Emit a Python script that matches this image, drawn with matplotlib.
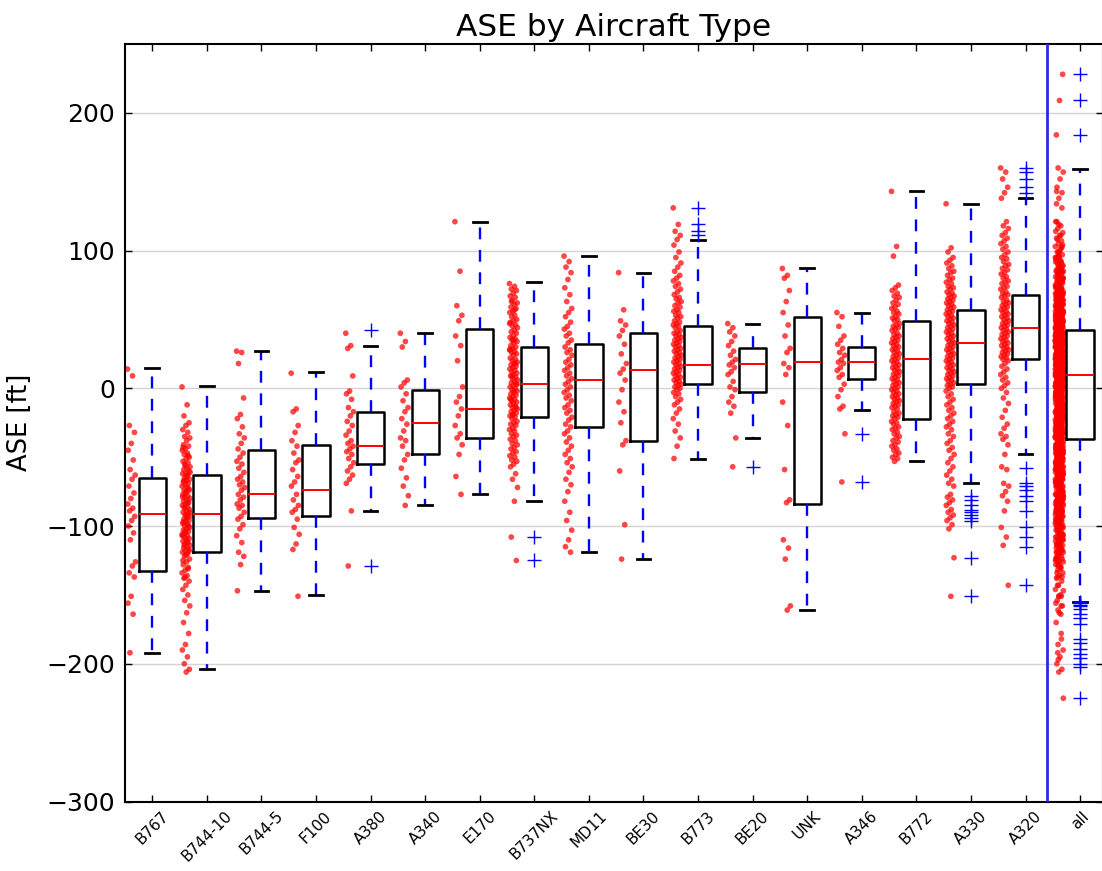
import numpy as np
import matplotlib
matplotlib.use('Agg')
import matplotlib.pyplot as plt

# aircraft types, in plotting order
cats = ['B767', 'B744-10', 'B744-5', 'F100', 'A380', 'A340', 'E170', 'B737NX', 'MD11',
        'BE30', 'B773', 'BE20', 'UNK', 'A346', 'B772', 'A330', 'A320', 'all']

# box statistics [ft]
q1 = [-133, -119, -94, -93, -55, -48, -36, -21, -28, -38, 3, -3, -84, 7, -22, 3, 21, -37]
med = [-91, -91, -77, -74, -42, -25, -15, 3, 6, 13, 17, 18, 19, 19, 21, 33, 44, 10]
q3 = [-65, -63, -45, -41, -17, -1, 43, 30, 32, 40, 45, 29, 52, 30, 49, 57, 68, 42]
whislo = [-192, -204, -147, -150, -89, -85, -77, -82, -119, -124, -51, -36, -161, -16, -53, -69, -48, -155]
whishi = [15, 2, 27, 12, 31, 40, 121, 77, 96, 84, 108, 47, 87, 55, 143, 134, 138, 159]

fliers = {
    'A380': [42, -129],
    'B737NX': [-108, -125],
    'B773': [131, 119, 114, 111],
    'BE20': [-57],
    'A346': [-33, -68],
    'A330': [-78, -81, -85, -88, -90, -92, -94, -96, -123, -151],
    'A320': [160, 157, 152, 146, 142, -58, -69, -71, -74, -78, -82, -89, -101, -108, -115, -143],
    'all': [228, 209, 184, -155, -156, -157, -158, -160, -164, -167, -171, -182, -185,
            -189, -193, -196, -200, -202, -225],
}

# individual ASE samples per type (estimated from the dots)
pts = {
    'B767': [14, 9, -27, -32, -40, -45, -52, -59, -63, -66, -71, -76, -80, -84, -87, -89, -93,
             -96, -100, -105, -110, -126, -129, -134, -137, -151, -156, -164, -192],
    'B744-10': [1, -12, -20, -25, -27, -30, -32, -35, -36, -38, -41, -42, -44, -45, -47, -48, -50,
                -51, -53, -54, -55, -57, -58, -59, -60, -62, -62, -63, -65, -66, -67, -68, -69,
                -70, -71, -72, -74, -74, -75, -77, -78, -79, -80, -81, -82, -83, -84, -85, -86,
                -87, -88, -89, -90, -91, -92, -93, -94, -95, -96, -97, -98, -99, -100, -101,
                -102, -103, -104, -105, -106, -107, -108, -109, -110, -111, -112, -113, -114,
                -115, -116, -117, -118, -119, -120, -122, -124, -126, -128, -130, -132, -134,
                -136, -138, -140, -143, -146, -150, -154, -158, -163, -170, -178, -186, -190,
                -195, -200, -204, -206,
                -43, -49, -56, -61, -64, -67, -73, -76, -79, -83, -86, -90, -93, -97, -100,
                -104, -107, -111, -114, -118, -121, -125, -131, -137],
    'B744-5': [27, 26, 18, -7, -19, -22, -28, -33, -36, -40, -44, -47, -50, -53, -55, -58, -61,
               -64, -66, -68, -70, -72, -74, -77, -79, -81, -84, -85, -87, -90, -93, -95, -99,
               -102, -107, -112, -119, -122, -128, -147],
    'F100': [11, -15, -17, -27, -32, -38, -42, -47, -52, -54, -59, -64, -68, -71, -77, -81, -85,
             -88, -90, -95, -101, -106, -113, -117, -151],
    'A380': [40, 31, 29, 9, -2, -4, -8, -14, -17, -20, -24, -27, -31, -34, -38, -40, -42, -44,
             -46, -48, -51, -54, -57, -60, -63, -66, -69, -89, -129],
    'A340': [40, 34, 30, 6, 4, 1, -4, -9, -14, -17, -22, -26, -31, -36, -38, -42, -48, -52, -58,
             -65, -71, -78, -85],
    'E170': [121, 85, 60, 53, 49, 38, 31, 20, 1, -6, -10, -15, -20, -27, -33, -36, -41, -48,
             -64, -77],
    'B737NX': [76, 74, 72, 71, 69, 67, 66, 64, 62, 61, 59, 58, 56, 55, 53, 52, 50, 49, 48, 46,
               45, 44, 42, 41, 40, 38, 37, 36, 35, 34, 33, 31, 30, 29, 28, 27, 26, 25, 24, 22,
               21, 20, 19, 18, 17, 16, 15, 14, 13, 12, 11, 10, 9, 8, 7, 6, 5, 4, 3, 2, 1, 0,
               -1, -2, -3, -4, -5, -6, -7, -8, -9, -10, -11, -12, -13, -14, -15, -16, -17, -18,
               -19, -20, -21, -22, -24, -25, -26, -27, -29, -30, -31, -33, -34, -35, -37, -38,
               -40, -41, -43, -44, -46, -47, -49, -50, -52, -53, -55, -57, -62, -66, -72, -82,
               -108, -125, 35, 28, 18, 9, 3, -2, -8, -14, -19, 47, 57, 63],
    'MD11': [96, 92, 88, 84, 79, 73, 68, 63, 58, 55, 52, 48, 45, 43, 40, 38, 35, 33, 30, 28, 26,
             24, 21, 19, 17, 15, 13, 11, 9, 7, 5, 3, 1, -1, -3, -5, -7, -9, -12, -14, -16, -18,
             -21, -23, -26, -28, -31, -33, -36, -39, -42, -45, -48, -51, -54, -57, -61, -66,
             -70, -75, -82, -90, -96, -103, -110, -115, -119],
    'BE30': [84, 57, 49, 46, 42, 38, 32, 25, 18, 14, 11, 6, -1, -10, -17, -25, -38, -41, -60,
             -99, -124],
    'B773': [131, 119, 114, 111, 108, 104, 99, 95, 91, 88, 85, 82, 80, 78, 76, 74, 72, 70, 68,
             66, 65, 63, 62, 60, 59, 57, 56, 55, 53, 52, 51, 49, 48, 47, 46, 45, 44, 42, 41, 40,
             39, 38, 37, 36, 35, 34, 33, 32, 31, 30, 29, 28, 27, 26, 25, 24, 23, 22, 21, 20, 19,
             18, 17, 16, 15, 14, 13, 12, 11, 10, 9, 8, 7, 6, 5, 4, 3, 2, 1, 0, -1, -3, -4, -6,
             -8, -10, -12, -15, -18, -22, -26, -31, -36, -42, -51],
    'BE20': [47, 44, 41, 38, 34, 31, 27, 24, 21, 19, 17, 15, 12, 10, 5, 1, -1, -6, -10, -13, -18,
             -36, -57],
    'UNK': [87, 82, 80, 71, 63, 55, 46, 38, 29, 26, 18, 15, 10, -10, -27, -59, -81, -83, -110,
            -116, -124, -158, -161],
    'A346': [55, 52, 45, 38, 35, 32, 29, 26, 24, 21, 19, 18, 15, 13, 10, 8, 3, -1, -6, -13, -15,
             -33, -68],
    'B772': [143, 103, 96, 75, 73, 71, 69, 67, 66, 64, 62, 61, 59, 58, 56, 55, 54, 52, 51, 50,
             49, 47, 46, 45, 44, 43, 42, 40, 39, 38, 37, 36, 35, 34, 33, 32, 31, 30, 29, 28, 27,
             26, 25, 24, 23, 22, 21, 20, 19, 18, 17, 16, 15, 14, 13, 12, 11, 10, 9, 8, 7, 6, 5,
             4, 3, 2, 1, 0, -1, -2, -3, -4, -5, -6, -7, -8, -9, -10, -11, -12, -13, -14, -15,
             -17, -18, -19, -20, -21, -22, -24, -25, -26, -28, -29, -30, -32, -33, -35, -36,
             -38, -39, -41, -42, -44, -45, -47, -48, -50, -51, -53],
    'A330': [134, 102, 99, 95, 93, 91, 89, 87, 85, 84, 82, 80, 79, 77, 76, 74, 73, 72, 70, 69,
             68, 67, 66, 65, 64, 63, 62, 61, 60, 59, 58, 57, 56, 55, 54, 53, 52, 51, 50, 49, 48,
             47, 46, 45, 44, 43, 42, 41, 40, 39, 38, 37, 36, 35, 34, 33, 32, 31, 30, 29, 28, 27,
             26, 25, 24, 23, 22, 21, 20, 19, 18, 17, 16, 15, 14, 13, 12, 11, 10, 9, 8, 7, 6, 5,
             4, 3, 2, 1, 0, -2, -4, -6, -8, -10, -12, -14, -16, -18, -20, -22, -24, -26, -28,
             -30, -33, -35, -38, -40, -43, -45, -48, -51, -54, -57, -60, -63, -66, -69, -71,
             -77, -79, -81, -83, -85, -88, -90, -92, -94, -96, -99, -102, -123, -151],
    'A320': [160, 157, 152, 146, 142, 138, 121, 118, 116, 113, 111, 109, 107, 105, 103, 101, 99,
             97, 95, 94, 92, 90, 89, 87, 86, 84, 83, 81, 80, 78, 77, 76, 74, 73, 72, 70, 69, 68,
             67, 66, 64, 63, 62, 61, 60, 59, 58, 57, 56, 55, 54, 53, 52, 51, 50, 49, 48, 47, 46,
             45, 44, 43, 42, 41, 40, 39, 38, 37, 36, 35, 34, 33, 32, 31, 30, 29, 28, 27, 26, 25,
             24, 23, 22, 21, 20, 18, 16, 14, 12, 10, 8, 6, 4, 2, 0, -3, -7, -11, -16, -21, -26,
             -29, -33, -35, -37, -41, -48, -57, -59, -69, -71, -75, -78, -82, -89, -101, -108,
             -114, -143],
}
# samples only counted in "all" (types not shown separately)
all_extra = [228, 209, 184, -182, -197, -225]

fig = plt.figure(figsize=(11.02, 8.71), dpi=100)
ax = fig.add_axes([125 / 1102, 69.5 / 871, 978 / 1102, 757.5 / 871])

pos = np.arange(1, len(cats) + 1)
stats = []
for i, c in enumerate(cats):
    stats.append(dict(med=med[i], q1=q1[i], q3=q3[i], whislo=whislo[i], whishi=whishi[i],
                      fliers=fliers.get(c, []), label=c))

# jittered dots left of each box
for i, c in enumerate(cats):
    if c == 'all':
        y = sum([pts[k] for k in cats[:-1]], []) + all_extra
    else:
        y = pts[c]
    y = np.array(y, dtype=float)
    n = len(y)
    frac = (np.arange(n) * 0.618034) % 1.0
    x = pos[i] - 0.38 + (frac - 0.5) * 0.15
    ax.scatter(x, y, s=17, color='red', alpha=0.72, edgecolors='none', zorder=2)

ax.bxp(stats, positions=pos, widths=0.5, showfliers=True,
       boxprops=dict(color='black', lw=1.8),
       medianprops=dict(color='red', lw=1.4),
       whiskerprops=dict(color='blue', lw=1.7, linestyle=(0, (5, 4.5))),
       capprops=dict(color='black', lw=2.0),
       flierprops=dict(marker='+', markeredgecolor='blue', markersize=10, markeredgewidth=1.0),
       zorder=3)

ax.axvline(17.39, color='#2a2ae0', lw=2, zorder=4)

ax.set_xlim(0.5, 18.42)
ax.set_ylim(-300, 250)
ax.set_yticks([-300, -200, -100, 0, 100, 200])
ax.set_xticks(pos)
ax.set_xticklabels(cats, rotation=45, ha='center', fontsize=11)
ax.yaxis.grid(True, color='#d4d4d4', lw=1)
ax.set_axisbelow(True)
ax.tick_params(direction='in', top=True, right=True, length=5, width=1)
ax.tick_params(axis='y', labelsize=18, pad=7)
ax.tick_params(axis='x', pad=5)
for s in ax.spines.values():
    s.set_linewidth(1.5)

ax.set_ylabel('ASE [ft]', fontsize=18.5, labelpad=10)
ax.set_title('ASE by Aircraft Type', fontsize=22.5, pad=6)

plt.savefig('out.png', dpi=100)
